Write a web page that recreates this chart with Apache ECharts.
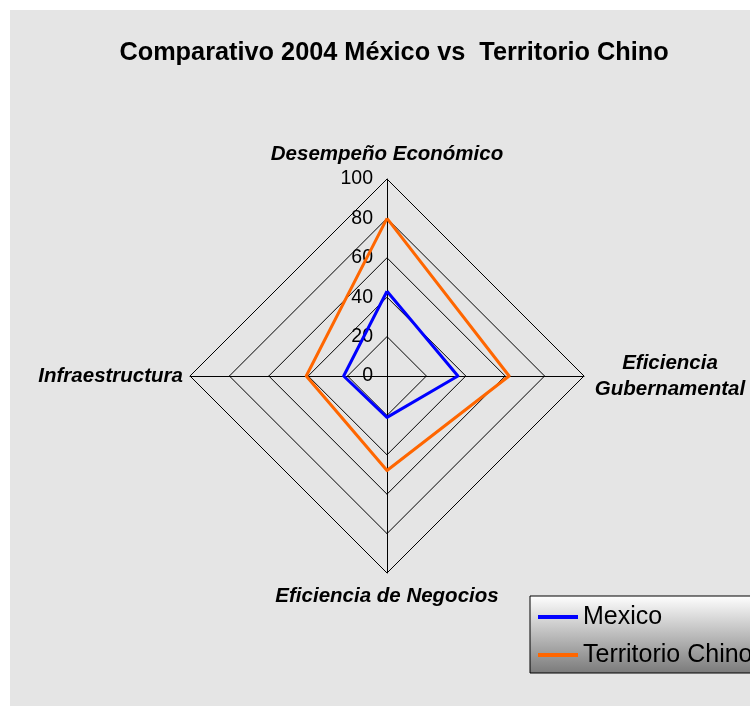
<!DOCTYPE html>
<html>
<head>
<meta charset="utf-8">
<script src="https://cdn.jsdelivr.net/npm/echarts@6/dist/echarts.min.js"></script>
<style>
html,body{margin:0;padding:0;background:#ffffff;}
#c{width:750px;height:706px;}
</style>
</head>
<body>
<div id="c"></div>
<script>
const titleText = 'Comparativo 2004 México vs  Territorio Chino';
// indicators in ECharts order (counter-clockwise from top)
const indicators = ['Desempeño Económico', 'Infraestructura', 'Eficiencia de Negocios', 'Eficiencia\nGubernamental'];
const seriesNames = ['Mexico', 'Territorio Chino'];
const mexico = [43, 22, 21, 36];
const territorioChino = [80, 41, 48, 62];
const seriesColors = ['#0000ff', '#ff6600'];

const chart = echarts.init(document.getElementById('c'));
const F = 'Liberation Sans, Arial, sans-serif';

const nameGaps = [12, 7, 10, 10];
chart.setOption({
  animation: false,
  backgroundColor: '#ffffff',
  graphic: [{
    type: 'rect', z: -10, silent: true,
    shape: {x: 10, y: 10, width: 740, height: 696},
    style: {fill: '#e5e5e5'}
  }],
  title: {
    text: titleText, left: 389, top: 36, textAlign: 'center',
    textStyle: {fontFamily: F, fontSize: 25.3, fontWeight: 'bold', color: '#000'}
  },
  legend: {
    data: seriesNames,
    orient: 'vertical',
    left: 530, top: 596,
    padding: [6, 80, 3, 8],
    itemGap: 8,
    itemWidth: 40, itemHeight: 4,
    icon: 'rect',
    backgroundColor: new echarts.graphic.LinearGradient(0, 0, 0, 1, [
      {offset: 0, color: '#ffffff'}, {offset: 1, color: '#7a7a7a'}
    ]),
    borderColor: '#000', borderWidth: 1,
    textStyle: {fontFamily: F, fontSize: 25, color: '#000', lineHeight: 30}
  },
  radar: {
    center: [387, 376],
    radius: 197,
    shape: 'polygon',
    splitNumber: 5,
    startAngle: 90,
    indicator: indicators.map((n, i) => {
      const o = {name: n, max: 100, min: 0, nameGap: nameGaps[i]};
      if (i !== 0) o.axisLabel = {show: false};
      return o;
    }),
    nameGap: 10,
    axisName: {
      color: '#000', fontFamily: F, fontSize: 20.5, fontWeight: 'bold', fontStyle: 'italic', lineHeight: 26,
      formatter: function (name) {
        if (name.indexOf('\n') >= 0) {
          return name.split('\n').map(s => '{c|' + s + '}').join('\n');
        }
        return name;
      },
      rich: {
        c: {width: 152, align: 'center', fontFamily: F, fontSize: 20.5, fontWeight: 'bold', fontStyle: 'italic', lineHeight: 26, color: '#000'}
      }
    },
    axisLine: {lineStyle: {color: '#000', width: 1}},
    splitLine: {lineStyle: {color: '#000', width: 1}},
    splitArea: {show: false},
    axisTick: {show: false},
    axisLabel: {show: true, color: '#000', fontFamily: F, fontSize: 19.5, margin: 14}
  },
  series: [{
    type: 'radar',
    symbol: 'none',
    data: [
      {name: seriesNames[0], value: mexico, lineStyle: {color: seriesColors[0], width: 3}, itemStyle: {color: seriesColors[0]}},
      {name: seriesNames[1], value: territorioChino, lineStyle: {color: seriesColors[1], width: 3}, itemStyle: {color: seriesColors[1]}}
    ]
  }]
});
</script>
</body>
</html>
